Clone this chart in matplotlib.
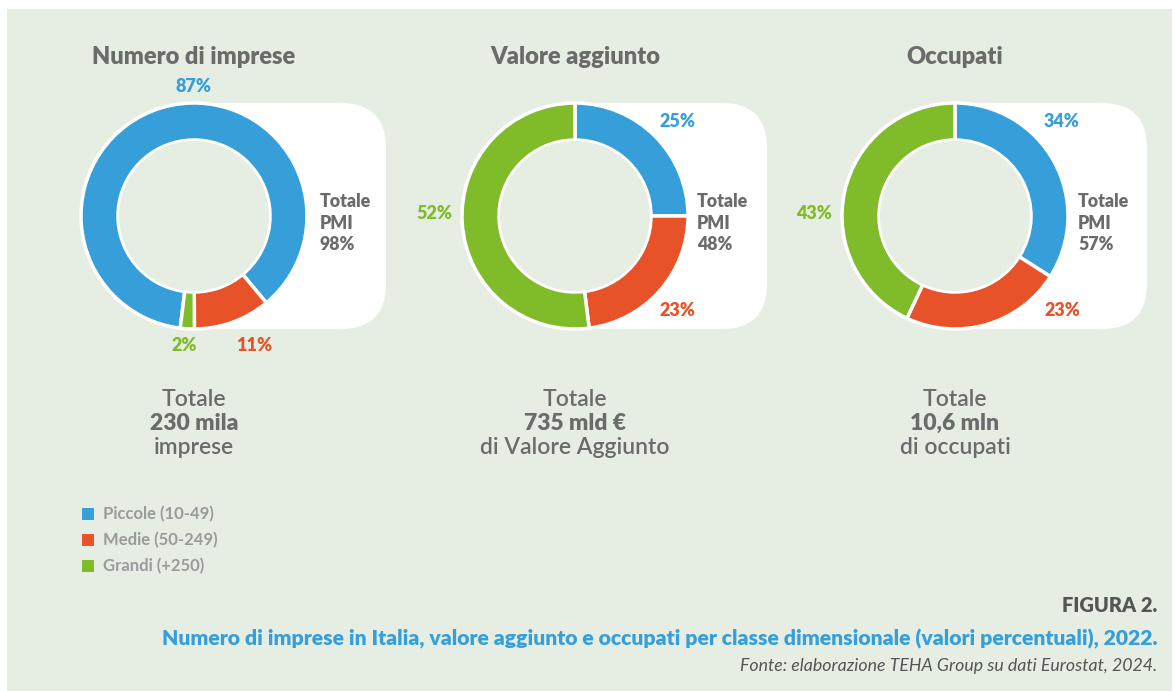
import matplotlib.pyplot as plt
from matplotlib.patches import FancyBboxPatch, Rectangle, Circle

# Dati
titoli = ['Numero di imprese', 'Valore aggiunto', 'Occupati']
classi = ['Piccole (10-49)', 'Medie (50-249)', 'Grandi (+250)']
imprese = [87, 11, 2]
valore_aggiunto = [25, 23, 52]
occupati = [34, 23, 43]
totale_pmi = [98, 48, 57]
totali = [('Totale', '230 mila', 'imprese'),
          ('Totale', '735 mld €', 'di Valore Aggiunto'),
          ('Totale', '10,6 mln', 'di occupati')]

BLU = '#369fd9'
ROSSO = '#e85228'
VERDE = '#80bb2a'
GRIGIO = '#6b6b6b'
SFONDO = '#e6eee4'
colori = [BLU, ROSSO, VERDE]

plt.rcParams['font.family'] = ['Lato', 'DejaVu Sans']

W, H = 1173, 691
fig = plt.figure(figsize=(W / 100, H / 100), dpi=100)
ax = fig.add_axes([0, 0, 1, 1])


def Y(y):
    # coordinate in pixel dall'alto
    return H - y


ax.add_patch(Rectangle((7, 0), W - 8, H - 9, facecolor=SFONDO, edgecolor='none', zorder=0))

centri_x = [194, 575, 955]
cy = 216
R, r = 113, 76
# angolo di partenza (matplotlib) per ogni ciambella
partenze = [-97, 90, 90]

# posizioni etichette (pixel): blu, rosso, verde
pos_etichette = [
    [(194, 86), (254, 345), (184, 345)],
    [(677, 121), (677, 310), (434, 213)],
    [(1062, 121), (1062, 310), (814, 213)],
]
pos_pmi = [320, 697, 1078]

for i, valori in enumerate([imprese, valore_aggiunto, occupati]):
    cx = centri_x[i]
    # riquadro bianco
    ax.add_patch(Rectangle((cx, Y(cy + R)), 80, 2 * R, facecolor='white',
                           edgecolor='none', zorder=1))
    ax.add_patch(FancyBboxPatch((cx + 45, Y(cy + R) + 45), 192 - 90, 2 * R - 90,
                                boxstyle='round,pad=45', facecolor='white',
                                edgecolor='none', zorder=1))
    wedges, _ = ax.pie(valori, colors=colori, center=(cx, Y(cy)), radius=R,
                       startangle=partenze[i], counterclock=False, frame=True,
                       wedgeprops=dict(width=R - r, edgecolor='white', linewidth=2.5))
    for w in wedges:
        w.set_zorder(2)
    ax.add_patch(Circle((cx, Y(cy)), r - 1, facecolor=SFONDO, edgecolor='none', zorder=3))

    ax.text(cx, Y(57), titoli[i], ha='center', va='center', fontsize=17,
            fontweight='heavy', color=GRIGIO)
    for k, (x, y) in enumerate(pos_etichette[i]):
        ax.text(x, Y(y), f'{valori[k]}%', ha='center', va='center', fontsize=13,
                fontweight='heavy', color=colori[k])
    ax.text(pos_pmi[i], Y(223), f'Totale\nPMI\n{totale_pmi[i]}%', ha='left',
            va='center', fontsize=12.8, fontweight='heavy', color=GRIGIO,
            linespacing=1.3)

    t1, t2, t3 = totali[i]
    ax.text(cx, Y(399), t1, ha='center', va='center', fontsize=16.5,
            fontweight='semibold', color=GRIGIO)
    ax.text(cx, Y(423), t2, ha='center', va='center', fontsize=16.5,
            fontweight='heavy', color=GRIGIO)
    ax.text(cx, Y(447), t3, ha='center', va='center', fontsize=16.5,
            fontweight='semibold', color=GRIGIO)

# legenda
for k, nome in enumerate(classi):
    y = 514 + 26 * k
    ax.add_patch(Rectangle((82, Y(y) - 6), 12, 12, facecolor=colori[k],
                           edgecolor='none', zorder=2))
    ax.text(103, Y(y), nome, ha='left', va='center', fontsize=12,
            fontweight='bold', color='#9a9a9a')

# didascalia
ax.text(1157, Y(606), 'FIGURA 2.', ha='right', va='center', fontsize=14.4,
        fontweight='heavy', color='#555555')
ax.text(1157, Y(639), 'Numero di imprese in Italia, valore aggiunto e occupati per classe '
        'dimensionale (valori percentuali), 2022.', ha='right', va='center',
        fontsize=15.2, fontweight='heavy', color=BLU)
ax.text(1157, Y(666), 'Fonte: elaborazione TEHA Group su dati Eurostat, 2024.',
        ha='right', va='center', fontsize=12.8, style='italic', color='#555555')

ax.set_xlim(0, W)
ax.set_ylim(0, H)
ax.set_aspect('auto')
ax.axis('off')

fig.savefig('out.png', dpi=100, facecolor='white')
